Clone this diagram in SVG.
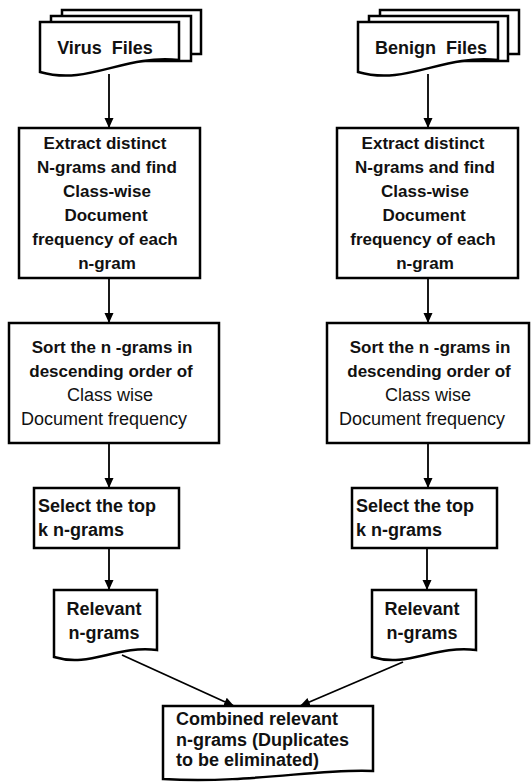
<svg xmlns="http://www.w3.org/2000/svg" width="532" height="782" viewBox="0 0 532 782">
<style>
.shape{fill:#fff;stroke:#000;stroke-width:2.5;stroke-linejoin:miter}
.conn{fill:none;stroke:#000;stroke-width:1.8;marker-end:url(#arr)}
text{font-family:"Liberation Sans",Arial,sans-serif;fill:#111}
.b17{font-size:17px;font-weight:bold;text-anchor:middle}
.b18{font-size:18px;font-weight:bold}
.r18{font-size:18px;text-anchor:middle}
.mid{text-anchor:middle}
</style>
<defs>
<marker id="arr" markerUnits="userSpaceOnUse" markerWidth="11" markerHeight="10" refX="10" refY="4.5" orient="auto">
<path d="M0,0 L10,4.5 L0,9 Z" fill="#000"/>
</marker>
</defs>
<g id="connectors">
<line class="conn" x1="109" y1="74" x2="109" y2="128"/>
<line class="conn" x1="428" y1="74" x2="428" y2="128"/>
<line class="conn" x1="109" y1="278" x2="109" y2="323"/>
<line class="conn" x1="428" y1="278" x2="428" y2="323"/>
<line class="conn" x1="109" y1="443" x2="109" y2="488"/>
<line class="conn" x1="428" y1="443" x2="428" y2="488"/>
<line class="conn" x1="109" y1="548" x2="109" y2="590"/>
<line class="conn" x1="427" y1="548" x2="427" y2="590"/>
<line class="conn" x1="122" y1="655" x2="234" y2="706"/>
<line class="conn" x1="403" y1="662" x2="300" y2="706"/>
</g>
<g id="virus-files">
<rect class="shape" x="62" y="10" width="139" height="44"/>
<rect class="shape" x="51" y="16" width="140" height="45"/>
<path class="shape" d="M40,22 H179 V60 C123,54 89,86 40,72 Z"/>
<text class="b18 mid" x="105" y="54" word-spacing="5">Virus Files</text>
</g>
<g id="benign-files">
<rect class="shape" x="380" y="10" width="139" height="44"/>
<rect class="shape" x="369" y="16" width="139" height="45"/>
<path class="shape" d="M358,22 H498 V60 C442,54 407,86 358,72 Z"/>
<text class="b18 mid" x="431" y="54" word-spacing="5">Benign Files</text>
</g>
<g id="extract-left">
<rect class="shape" x="19" y="128" width="181" height="150"/>
<text class="b17" x="105" y="149">Extract distinct</text>
<text class="b17" x="107" y="173">N-grams and find</text>
<text class="b17" x="107" y="197">Class-wise</text>
<text class="b17" x="106" y="221">Document</text>
<text class="b17" x="105" y="245">frequency of each</text>
<text class="b17" x="107" y="269">n-gram</text>
</g>
<g id="extract-right">
<rect class="shape" x="337" y="128" width="181" height="150"/>
<text class="b17" x="423" y="149">Extract distinct</text>
<text class="b17" x="425" y="173">N-grams and find</text>
<text class="b17" x="425" y="197">Class-wise</text>
<text class="b17" x="424" y="221">Document</text>
<text class="b17" x="423" y="245">frequency of each</text>
<text class="b17" x="425" y="269">n-gram</text>
</g>
<g id="sort-left">
<rect class="shape" x="9" y="323" width="210" height="120"/>
<text class="b17" x="112" y="353">Sort the n -grams in</text>
<text class="b17" x="111" y="377">descending order of</text>
<text class="r18" x="110" y="401">Class wise</text>
<text class="r18" x="104" y="425">Document frequency</text>
</g>
<g id="sort-right">
<rect class="shape" x="327" y="323" width="202" height="120"/>
<text class="b17" x="430" y="353">Sort the n -grams in</text>
<text class="b17" x="429" y="377">descending order of</text>
<text class="r18" x="428" y="401">Class wise</text>
<text class="r18" x="422" y="425">Document frequency</text>
</g>
<g id="select-left">
<rect class="shape" x="34" y="488" width="145" height="60"/>
<text class="b18" x="38" y="512">Select the top</text>
<text class="b18" x="38" y="536">k n-grams</text>
</g>
<g id="select-right">
<rect class="shape" x="352" y="488" width="145" height="60"/>
<text class="b18" x="356" y="512">Select the top</text>
<text class="b18" x="356" y="536">k n-grams</text>
</g>
<g id="relevant-left">
<path class="shape" d="M54,590 H157 V650 C116,645 90,668 54,657 Z"/>
<text class="b18 mid" x="104" y="615">Relevant</text>
<text class="b18 mid" x="104" y="639">n-grams</text>
</g>
<g id="relevant-right">
<path class="shape" d="M372,590 H476 V650 C434,645 408,668 372,657 Z"/>
<text class="b18 mid" x="422" y="615">Relevant</text>
<text class="b18 mid" x="422" y="639">n-grams</text>
</g>
<g id="combined">
<path class="shape" d="M163,706 H373 V771 C320,768 250,784 163,779 Z"/>
<text class="b18" x="176" y="725">Combined relevant</text>
<text class="b18" x="176" y="746">n-grams (Duplicates</text>
<text class="b18" x="176" y="766">to be eliminated)</text>
</g>
</svg>
